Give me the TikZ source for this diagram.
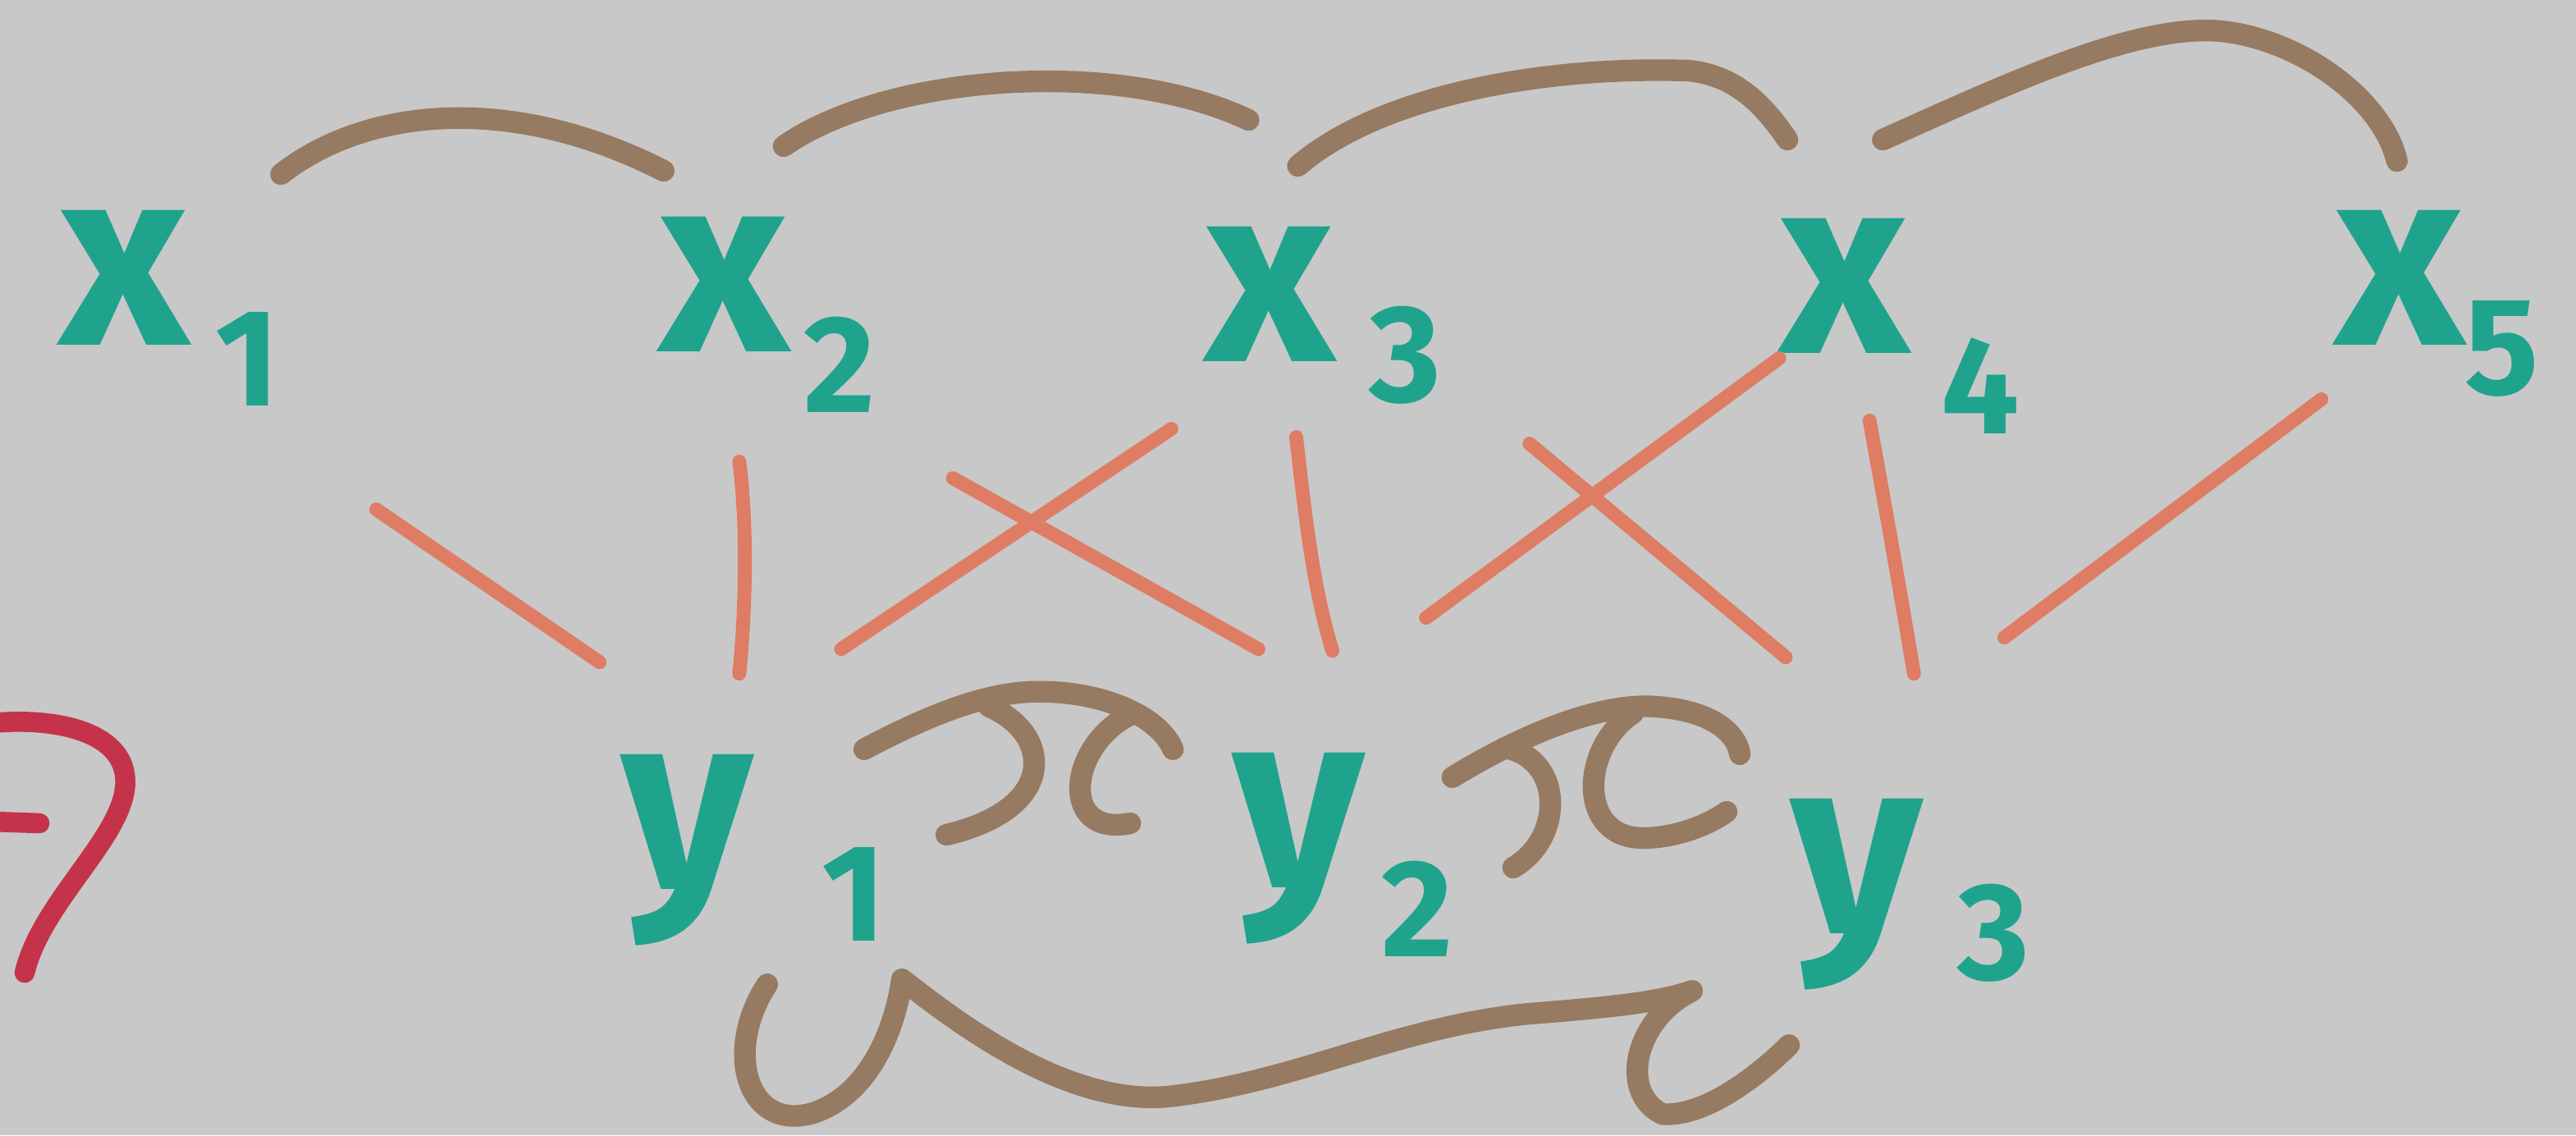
\documentclass[tikz,border=0pt]{standalone}
\usepackage{fontspec}
\setmainfont{Fira Sans}
\definecolor{bgc}{HTML}{C8C8C8}
\definecolor{mteal}{HTML}{1FA38D}
\definecolor{mbrown}{HTML}{977A62}
\definecolor{morange}{HTML}{DE7C64}
\definecolor{mred}{HTML}{C5334A}
\newcommand{\sbx}[3]{\kern#2pt\lower#3pt\hbox{\fontsize{48}{48}\selectfont\bfseries #1}}
\tikzset{
  arcb/.style={draw=mbrown, line width=7.5pt, line cap=round, line join=round},
  linko/.style={draw=morange, line width=4.8pt, line cap=round},
  redm/.style={draw=mred, line width=7pt, line cap=round, line join=round},
  lbl/.style={text=mteal, inner sep=0pt, anchor=base west, font=\fontsize{88}{88}\selectfont\bfseries},
}
\begin{document}
\begin{tikzpicture}[x=0.02002cm, y=-0.02002cm]
\fill[bgc] (0,0) rectangle (1568,691);
\useasboundingbox (0,0) rectangle (1568,691);

% x labels
\node[lbl] (x1) at (36,210) {x\sbx{1}{9}{21}};
\node[lbl] (x2) at (401,214) {x\sbx{2}{5}{21}};
\node[lbl] (x3) at (733,220) {x\sbx{3}{12}{14}};
\node[lbl] (x4) at (1083,215) {x\sbx{4}{11}{28}};
\node[lbl] (x5) at (1421,210) {x\sbx{5}{0}{17}};
% y labels
\node[lbl] (y1) at (378,541) {y\sbx{1}{24}{18}};
\node[lbl] (y2) at (750,540) {y\sbx{2}{6}{24}};
\node[lbl] (y3) at (1090,568) {y\sbx{3}{12}{16}};

% top arcs between neighbouring x
\coordinate (a1s) at (171,106); \coordinate (a1e) at (404,104);
\coordinate (a2s) at (477,89);  \coordinate (a2e) at (760,73);
\coordinate (a3s) at (790,101); \coordinate (a3e) at (1088,85);
\coordinate (a4s) at (1146,85); \coordinate (a4e) at (1459,98);
\draw[arcb] (a1s) .. controls (222,66) and (310,56) .. (a1e);
\draw[arcb] (a2s) .. controls (540,45) and (680,35) .. (a2e);
\draw[arcb] (a3s) .. controls (840,58) and (940,40) .. (1028,43) .. controls (1058,46) and (1075,66) .. (a3e);
\draw[arcb] (a4s) .. controls (1220,52) and (1300,14) .. (1352,19) .. controls (1400,24) and (1450,60) .. (a4e);

% orange links x -> y
\coordinate (l1s) at (229,310); \coordinate (l1e) at (365,403);
\coordinate (l2s) at (450,281); \coordinate (l2e) at (450,410);
\coordinate (l3s) at (512,395); \coordinate (l3e) at (713,261);
\coordinate (l4s) at (580,291); \coordinate (l4e) at (766,395);
\coordinate (l5s) at (789,266); \coordinate (l5e) at (811,396);
\coordinate (l6s) at (868,376); \coordinate (l6e) at (1083,218);
\coordinate (l7s) at (931,270); \coordinate (l7e) at (1087,400);
\coordinate (l8s) at (1138,256); \coordinate (l8e) at (1165,410);
\coordinate (l9s) at (1220,388); \coordinate (l9e) at (1413,243);
\draw[linko] (l1s) -- (l1e);
\draw[linko] (l2s) .. controls (455,320) and (454,370) .. (l2e);
\draw[linko] (l3s) -- (l3e);
\draw[linko] (l4s) -- (l4e);
\draw[linko] (l5s) .. controls (795,320) and (800,360) .. (l5e);
\draw[linko] (l6s) -- (l6e);
\draw[linko] (l7s) -- (l7e);
\draw[linko] (l8s) .. controls (1146,300) and (1155,350) .. (l8e);
\draw[linko] (l9s) -- (l9e);

% brown symbols between y1 and y2
\draw[arcb] (526,456) .. controls (560,438) and (600,420) .. (634,421) .. controls (670,421) and (705,435) .. (714,456);
\draw[arcb] (602,430) .. controls (640,446) and (645,492) .. (576,508);
\draw[arcb] (690,434) .. controls (650,452) and (644,510) .. (688,501);
% brown symbols between y2 and y3
\draw[arcb] (884,473) .. controls (930,445) and (975,428) .. (1007,430) .. controls (1040,432) and (1057,445) .. (1059,459);
\draw[arcb] (916,455) .. controls (952,462) and (952,510) .. (921,528);
\draw[arcb] (994,434) .. controls (962,455) and (960,510) .. (1000,510) .. controls (1020,510) and (1040,502) .. (1051,494);

% bottom U ~ C
\draw[arcb] (467,599) .. controls (440,640) and (455,690) .. (496,677) .. controls (530,665) and (545,625) .. (549,596)
  .. controls (580,620) and (650,675) .. (714,667) .. controls (790,658) and (850,625) .. (930,617)
  .. controls (980,613) and (1010,610) .. (1030,603)
  .. controls (995,620) and (985,665) .. (1012,678) .. controls (1040,680) and (1075,650) .. (1089,636);

% red partial mark at left edge
\draw[redm] (-5,440) .. controls (40,436) and (80,448) .. (76,480) .. controls (72,512) and (25,550) .. (15,592);
\draw[redm] (-5,500) -- (24,501);
\end{tikzpicture}
\end{document}
